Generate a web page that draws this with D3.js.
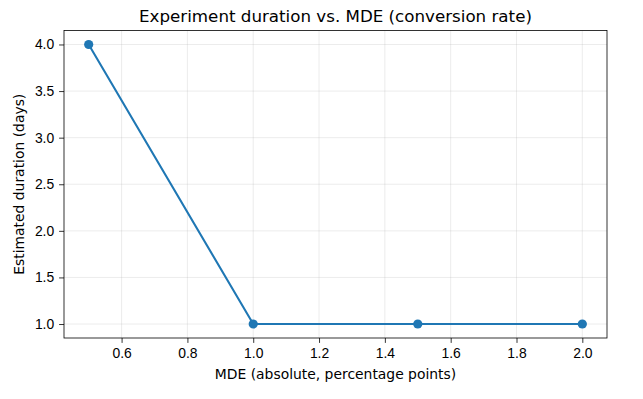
<!DOCTYPE html>
<html>
<head>
<meta charset="utf-8">
<script src="https://cdn.jsdelivr.net/npm/d3@7"></script>
<style>
  body { margin: 0; background: #fff; }
  svg { font-family: "DejaVu Sans", sans-serif; }
  .grid line { stroke: #b0b0b0; stroke-opacity: 0.3; stroke-width: 0.8; }
  .axis text { font-size: 13.9px; fill: #000; }
  .axis line, .axis path { stroke: #000; stroke-width: 0.8; }
</style>
</head>
<body>
<svg id="chart"></svg>
<script>
// data
const mde = [0.5, 1.0, 1.5, 2.0];
const durationDays = [4, 1, 1, 1];
const xTicks = [0.6, 0.8, 1.0, 1.2, 1.4, 1.6, 1.8, 2.0];
const yTicks = [1.0, 1.5, 2.0, 2.5, 3.0, 3.5, 4.0];

const W = 643, H = 399;
const margin = {top: 30.5, right: 36, bottom: 61, left: 64};
const width = W - margin.left - margin.right;
const height = H - margin.top - margin.bottom;

const svg = d3.select('#chart').attr('width', W).attr('height', H);
const chart = svg.append('g').attr('transform', `translate(${margin.left},${margin.top})`);

const xScale = d3.scaleLinear().domain([0.425, 2.075]).range([0, width]);
const yScale = d3.scaleLinear().domain([0.85, 4.15]).range([height, 0]);

// gridlines
chart.append('g').attr('class', 'grid')
  .selectAll('line').data(xTicks).join('line')
    .attr('x1', d => xScale(d)).attr('x2', d => xScale(d))
    .attr('y1', 0).attr('y2', height);
chart.append('g').attr('class', 'grid')
  .selectAll('line').data(yTicks).join('line')
    .attr('y1', d => yScale(d)).attr('y2', d => yScale(d))
    .attr('x1', 0).attr('x2', width);

// axes
chart.append('g').attr('class', 'axis')
  .attr('transform', `translate(0,${height})`)
  .call(d3.axisBottom(xScale).tickValues(xTicks).tickSize(4.9).tickPadding(4.9).tickFormat(d3.format('.1f')))
  .call(g => g.select('.domain').remove())
  .call(g => g.selectAll('text').attr('font-family', null).attr('font-size', null));
chart.append('g').attr('class', 'axis')
  .call(d3.axisLeft(yScale).tickValues(yTicks).tickSize(4.9).tickPadding(4.9).tickFormat(d3.format('.1f')))
  .call(g => g.select('.domain').remove())
  .call(g => g.selectAll('text').attr('font-family', null).attr('font-size', null));

// frame
chart.append('rect')
  .attr('width', width).attr('height', height)
  .attr('fill', 'none').attr('stroke', '#000').attr('stroke-width', 0.8);

// line + markers
const line = d3.line().x((d, i) => xScale(mde[i])).y(d => yScale(d));
chart.append('path')
  .datum(durationDays)
  .attr('d', line)
  .attr('fill', 'none')
  .attr('stroke', '#1f77b4')
  .attr('stroke-width', 2.08);
chart.selectAll('.point').data(durationDays).join('circle')
  .attr('class', 'point')
  .attr('cx', (d, i) => xScale(mde[i]))
  .attr('cy', d => yScale(d))
  .attr('r', 4.6)
  .attr('fill', '#1f77b4');

// titles
svg.append('text')
  .attr('x', margin.left + width / 2).attr('y', 22)
  .attr('text-anchor', 'middle').attr('font-size', 16.7)
  .text('Experiment duration vs. MDE (conversion rate)');
svg.append('text')
  .attr('x', margin.left + width / 2).attr('y', 379)
  .attr('text-anchor', 'middle').attr('font-size', 13.9)
  .text('MDE (absolute, percentage points)');
svg.append('text')
  .attr('transform', `translate(24,${margin.top + height / 2}) rotate(-90)`)
  .attr('text-anchor', 'middle').attr('font-size', 13.9)
  .text('Estimated duration (days)');
</script>
</body>
</html>
